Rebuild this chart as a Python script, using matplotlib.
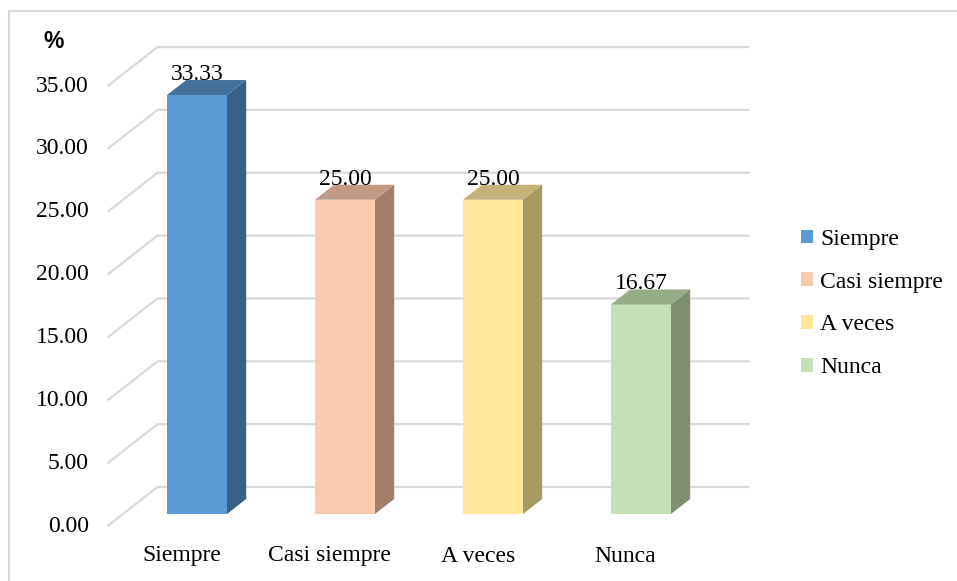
import matplotlib
matplotlib.use("Agg")
import matplotlib.pyplot as plt
from matplotlib.patches import Polygon, Patch
import numpy as np

categories = ["Siempre", "Casi siempre", "A veces", "Nunca"]
values = [33.33, 25.00, 25.00, 16.67]
yticks = [0, 5, 10, 15, 20, 25, 30, 35]
front_colors = ["#5B9BD5", "#F8CBAD", "#FFE699", "#C5E0B4"]
top_colors = ["#41719C", "#C09A83", "#C4B378", "#96AC89"]
side_colors = ["#3A6185", "#A07F6B", "#A69961", "#7F8F71"]

plt.rcParams["font.family"] = ["Liberation Serif", "DejaVu Serif"]
FS = 17

W, H = 957, 581
fig = plt.figure(figsize=(W / 100, H / 100), dpi=100)
ax = fig.add_axes([0, 0, 1, 1])
ax.axis("off")

# pixel scale of the category / value axes
px_cat = 148.0
px_val = 12.57
x0_px, y0_px = 197.0, 514.0
ax.set_xlim(-x0_px / px_cat, (W - x0_px) / px_cat)
ax.set_ylim((y0_px - H) / px_val, y0_px / px_val)

slope = 1.28  # horizontal shift per vertical pixel of depth


def shift(d):
    """Offset in data units for depth d (pixels, positive = backwards)."""
    return slope * d / px_cat, d / px_val


front_d, back_d = -12, 27
bar_depth = 15
x_left, x_right = -0.5, 3.5
grid_col = "#D9D9D9"

# perspective gridlines: floor diagonal on the side wall, then along the back wall
fx, fy = shift(front_d)
bx, by = shift(back_d)
for v in yticks:
    ax.plot([x_left + fx, x_left + bx, x_right + bx],
            [v + fy, v + by, v + by],
            color=grid_col, lw=1.6, zorder=1, solid_capstyle="butt")
    ax.text(x_left + fx - 19 / px_cat, v + fy, f"{v:.2f}",
            ha="right", va="center", fontsize=FS, color="#000000")

# 3-D columns
width = 60 / px_cat
dx, dy = shift(bar_depth)
xs = np.arange(len(categories))
ax.bar(xs, values, width=width, color=front_colors, zorder=3, linewidth=0)
for x, v, tc, sc in zip(xs, values, top_colors, side_colors):
    l, r = x - width / 2, x + width / 2
    ax.add_patch(Polygon([(l, v), (r, v), (r + dx, v + dy), (l + dx, v + dy)],
                         closed=True, facecolor=tc, edgecolor="none", zorder=3))
    ax.add_patch(Polygon([(r, 0), (r + dx, dy), (r + dx, v + dy), (r, v)],
                         closed=True, facecolor=sc, edgecolor="none", zorder=3))
    ax.text(x, v + dy, f"{v:.2f}", ha="center", va="baseline",
            fontsize=FS, color="#000000", zorder=4)

# category labels along the front edge of the floor
for x, c in zip(xs, categories):
    ax.text(x + fx, -42 / px_val, c, ha="center", va="center", fontsize=FS)

# axis unit
ax.text(x_left + fx - 54 / px_cat, 35 + fy + 45 / px_val, "%", ha="center",
        va="center", fontsize=16.5, fontweight="bold",
        family=["Liberation Sans", "DejaVu Sans"])

# chart frame (top and left edges)
fig.add_artist(plt.Line2D([9 / W, 9 / W, 1], [0, 1 - 11 / H, 1 - 11 / H],
                          transform=fig.transFigure, color="#D9D9D9", lw=1.5))

handles = [Patch(facecolor=c, edgecolor="none") for c in front_colors]
leg = ax.legend(handles, categories, loc="center left",
                bbox_to_anchor=(801 / W, 1 - 303.5 / H), frameon=False,
                fontsize=FS, handlelength=0.52, handleheight=0.52,
                handletextpad=0.3, labelspacing=0.92, borderaxespad=0,
                borderpad=0)

fig.savefig("out.png", dpi=100)
